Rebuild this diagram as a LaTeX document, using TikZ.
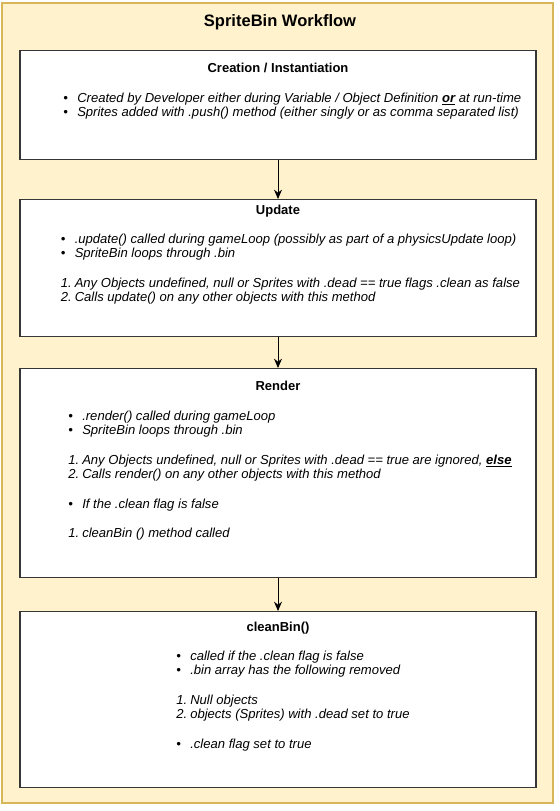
\documentclass[tikz,border=0pt]{standalone}
\usepackage{fontspec}
\setmainfont{Liberation Sans}
\usepackage{xcolor}
\usepackage{tikz}
\usetikzlibrary{arrows.meta,positioning}

\definecolor{panelfill}{HTML}{FFF2CC}
\definecolor{paneldraw}{HTML}{D6B656}
\definecolor{boxdraw}{HTML}{363636}

\newcommand{\bul}{\makebox[10.5pt][l]{\textbullet}}
\newcommand{\itm}[1]{\makebox[10.5pt][l]{#1.}}
\newcommand{\key}[1]{\underline{\textbf{#1}}}

\begin{document}
\begin{tikzpicture}[x=0.75pt,y=-0.75pt,
		stagebox/.style={draw=boxdraw, line width=0.8pt, fill=white, minimum width=387pt, anchor=north, inner sep=0pt},
		stagehead/.style={anchor=base, inner sep=0pt, font=\fontsize{9.75}{12}\selectfont\bfseries},
		stagetext/.style={anchor=base west, inner sep=0pt, font=\fontsize{9.8}{11}\selectfont\itshape},
		flow/.style={-{Stealth[length=7pt,width=6pt]}, line width=0.75pt}]

		\useasboundingbox (0,0) rectangle (560,811);
		\draw[draw=paneldraw, fill=panelfill, line width=0.9pt] (2,3) rectangle (553,803);
		\node[anchor=base, inner sep=0pt, font=\fontsize{12.4}{14}\selectfont\bfseries] (title) at (280,26.5) {SpriteBin Workflow};

		\node[stagebox, minimum height=81.75pt] (create) at (278,50) {};
		\node[stagebox, minimum height=102.75pt] (update) at (278,199) {};
		\node[stagebox, minimum height=156.75pt] (render) at (278,368) {};
		\node[stagebox, minimum height=132pt] (cleanbin) at (278,611) {};

		\draw[flow] (create) -- (update);
		\draw[flow] (update) -- (render);
		\draw[flow] (render) -- (cleanbin);

		\node[stagehead] (createhead) at (278,72.5) {Creation / Instantiation};
		\node[stagetext] (createtext) at (63,102) {\begin{tabular}[t]{@{}l@{}}
			\bul Created by Developer either during Variable / Object Definition \key{or} at run-time\\
			\bul Sprites added with .push() method (either singly or as comma separated list)
		\end{tabular}};

		\node[stagehead] (updatehead) at (278,214.5) {Update};
		\node[stagetext] (updatetext) at (60.5,243) {\begin{tabular}[t]{@{}l@{}}
			\bul .update() called during gameLoop (possibly as part of a physicsUpdate loop)\\
			\bul SpriteBin loops through .bin\\
			\\
			\itm{1}Any Objects undefined, null or Sprites with .dead == true flags .clean as false\\
			\itm{2}Calls update() on any other objects with this method
		\end{tabular}};

		\node[stagehead] (renderhead) at (278,390.5) {Render};
		\node[stagetext] (rendertext) at (68,420) {\begin{tabular}[t]{@{}l@{}}
			\bul .render() called during gameLoop\\
			\bul SpriteBin loops through .bin\\
			\\
			\itm{1}Any Objects undefined, null or Sprites with .dead == true are ignored, \key{else}\\
			\itm{2}Calls render() on any other objects with this method\\
			\\
			\bul If the .clean flag is false\\
			\\
			\itm{1}cleanBin () method called
		\end{tabular}};

		\node[stagehead] (cleanbinhead) at (278,631.5) {cleanBin()};
		\node[stagetext] (cleanbintext) at (176,660) {\begin{tabular}[t]{@{}l@{}}
			\bul called if the .clean flag is false\\
			\bul .bin array has the following removed\\
			\\
			\itm{1}Null objects\\
			\itm{2}objects (Sprites) with .dead set to true\\
			\\
			\bul .clean flag set to true
		\end{tabular}};
	\end{tikzpicture}
\end{document}
